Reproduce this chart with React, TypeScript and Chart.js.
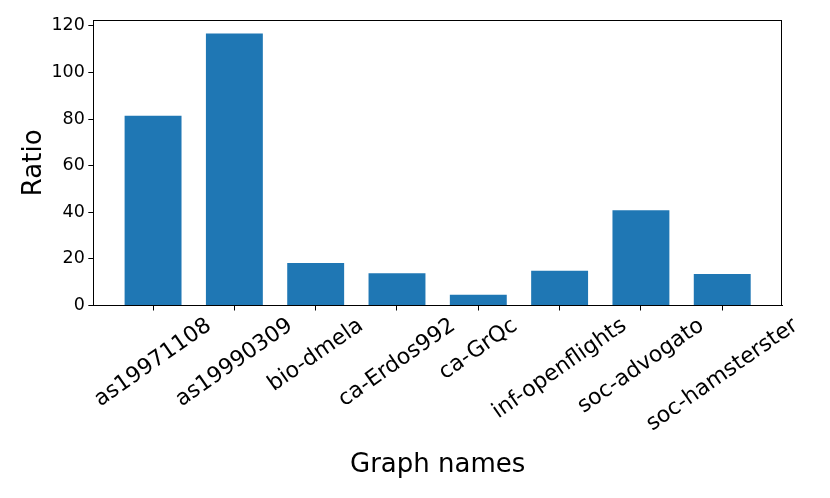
import React, { useEffect, useRef } from "react";
import { Chart, registerables } from "chart.js";

Chart.register(...registerables);

const categories = [
  "as19971108",
  "as19990309",
  "bio-dmela",
  "ca-Erdos992",
  "ca-GrQc",
  "inf-openflights",
  "soc-advogato",
  "soc-hamsterster",
];
const ratios = [81.4, 116.7, 18.2, 13.8, 4.6, 14.9, 40.9, 13.5];
const yTickValues = [0, 20, 40, 60, 80, 100, 120];
const xTitle = "Graph names";
const yTitle = "Ratio";

const FONT = "'DejaVu Sans', sans-serif";

export default function App() {
  const ref = useRef<HTMLCanvasElement | null>(null);

  useEffect(() => {
    document.body.style.margin = "0";
    const canvas = ref.current;
    if (!canvas) return;

    const labelPlugin = {
      id: "mplLabels",
      afterDraw(chart: any) {
        const ctx = chart.ctx as CanvasRenderingContext2D;
        const area = chart.chartArea;
        const xs = chart.scales.x;
        ctx.save();
        // frame
        ctx.strokeStyle = "#000";
        ctx.lineWidth = 1;
        const l = Math.round(area.left) + 0.5;
        const r = Math.round(area.right) - 0.5;
        const t = Math.round(area.top) + 0.5;
        const b = Math.round(area.bottom) - 0.5;
        ctx.strokeRect(l, t, r - l, b - t);

        // rotated x tick labels, centered like matplotlib ha='center'
        const fs = 22;
        const theta = (35 * Math.PI) / 180;
        ctx.font = `${fs}px ${FONT}`;
        ctx.fillStyle = "#000";
        ctx.textAlign = "center";
        ctx.textBaseline = "middle";
        const y0 = area.bottom + 9;
        categories.forEach((name, i) => {
          const px = xs.getPixelForValue(i);
          const L = ctx.measureText(name).width;
          const h = fs;
          const H = L * Math.sin(theta) + h * Math.cos(theta);
          ctx.save();
          ctx.translate(px, y0 + H / 2);
          ctx.rotate(-theta);
          ctx.fillText(name, 0, 0);
          ctx.restore();
        });

        // axis titles
        ctx.font = `26px ${FONT}`;
        ctx.textAlign = "center";
        ctx.textBaseline = "alphabetic";
        ctx.fillText(xTitle, (area.left + area.right) / 2, 472.3);

        ctx.save();
        ctx.translate(41, (area.top + area.bottom) / 2);
        ctx.rotate(-Math.PI / 2);
        ctx.fillText(yTitle, 0, 0);
        ctx.restore();

        ctx.restore();
      },
    };

    const chart = new Chart(canvas, {
      type: "bar",
      data: {
        datasets: [
          {
            data: ratios.map((v, i) => ({ x: i, y: v })),
            backgroundColor: "#1f77b4",
            borderWidth: 0,
            barPercentage: 0.7,
            categoryPercentage: 1.0,
          },
        ],
      },
      options: {
        animation: false,
        responsive: false,
        devicePixelRatio: 1,
        layout: { padding: { left: 0, top: 20, right: 48, bottom: 0 } },
        plugins: {
          legend: { display: false },
          tooltip: { enabled: false },
          title: { display: false },
        },
        scales: {
          x: {
            type: "linear",
            offset: false,
            min: -0.735,
            max: 7.735,
            afterBuildTicks: (s: any) => {
              s.ticks = categories.map((_, i) => ({ value: i }));
            },
            afterFit: (s: any) => {
              s.height = 498 - 305.5;
            },
            ticks: { display: false },
            grid: {
              offset: false,
              drawOnChartArea: false,
              drawTicks: true,
              tickLength: 5,
              color: "#000",
              lineWidth: 1,
            },
            border: { display: true, color: "#000", width: 1 },
          },
          y: {
            type: "linear",
            min: 0,
            max: 122.5,
            afterBuildTicks: (s: any) => {
              s.ticks = yTickValues.map((v) => ({ value: v }));
            },
            afterFit: (s: any) => {
              s.width = 93.3;
            },
            ticks: {
              color: "#000",
              font: { family: FONT, size: 17.5 },
              padding: 3.5,
            },
            grid: {
              drawOnChartArea: false,
              drawTicks: true,
              tickLength: 5,
              color: "#000",
              lineWidth: 1,
            },
            border: { display: true, color: "#000", width: 1 },
          },
        },
      },
      plugins: [labelPlugin],
    } as any);

    return () => {
      chart.destroy();
    };
  }, []);

  return (
    <div style={{ width: 830, height: 498 }}>
      <canvas ref={ref} width={830} height={498} style={{ display: "block" }} />
    </div>
  );
}
